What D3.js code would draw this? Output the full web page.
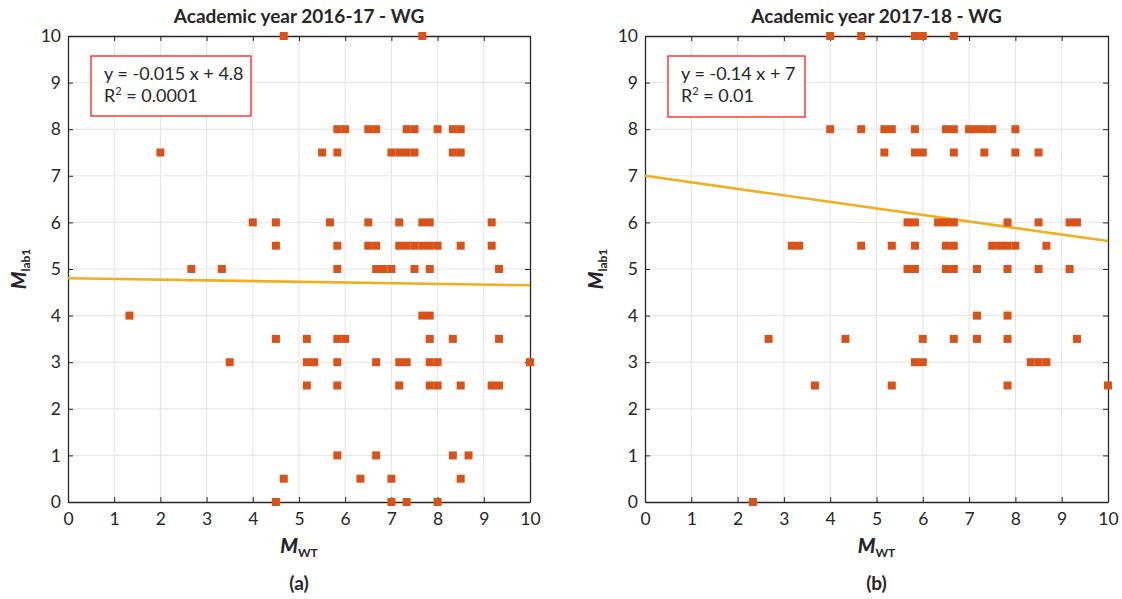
<!DOCTYPE html>
<html>
<head>
<meta charset="utf-8">
<script src="https://cdn.jsdelivr.net/npm/d3@7"></script>
<style>
body{margin:0;background:#fff;}
svg{display:block;}
text{font-family:Lato,"Open Sans",sans-serif;fill:#262626;}
</style>
</head>
<body>
<div id="chart"></div>
<script>
var svgWidth = 1122;
var svgHeight = 599;

var titles = ["Academic year 2016-17 - WG", "Academic year 2017-18 - WG"];
var captions = ["(a)", "(b)"];
var eqLines = ["y = -0.015 x + 4.8", "y = -0.14 x + 7"];
var r2Values = ["0.0001", "0.01"];
var slopes = [-0.015, -0.14];
var intercepts = [4.8, 7];
var tickVals = [0, 1, 2, 3, 4, 5, 6, 7, 8, 9, 10];

// 2016-17: M_lab1 levels and the M_WT values found on each level
var labLevelsA = [10, 8, 7.5, 6, 5.5, 5, 4, 3.5, 3, 2.5, 1, 0.5, 0];
var wtByLevelA = [
  [4.67, 7.67],
  [5.83, 6.0, 6.5, 6.67, 7.33, 7.5, 8.0, 8.33, 8.5],
  [2.0, 5.5, 5.83, 7.0, 7.17, 7.33, 7.5, 8.33, 8.5],
  [4.0, 4.5, 5.67, 6.5, 7.17, 7.67, 7.83, 9.17],
  [4.5, 5.83, 6.5, 6.67, 7.17, 7.33, 7.5, 7.67, 7.83, 8.0, 8.5, 9.17],
  [2.67, 3.33, 5.83, 6.67, 6.83, 7.0, 7.5, 7.83, 9.33],
  [1.33, 7.67, 7.83],
  [4.5, 5.17, 5.83, 6.0, 7.83, 8.33, 9.33],
  [3.5, 5.17, 5.33, 5.83, 6.67, 7.17, 7.33, 7.83, 8.0, 10],
  [5.17, 5.83, 7.17, 7.83, 8.0, 8.5, 9.17, 9.33],
  [5.83, 6.67, 8.33, 8.67],
  [4.67, 6.33, 7.0, 8.5],
  [4.5, 7.0, 7.33, 8.0]
];

// 2017-18
var labLevelsB = [10, 8, 7.5, 6, 5.5, 5, 4, 3.5, 3, 2.5, 0];
var wtByLevelB = [
  [4.0, 4.67, 5.83, 6.0, 6.67],
  [4.0, 4.67, 5.17, 5.33, 5.83, 6.5, 6.67, 7.0, 7.17, 7.33, 7.5, 8.0],
  [5.17, 5.83, 6.0, 6.67, 7.33, 8.0, 8.5],
  [5.67, 5.83, 6.33, 6.5, 6.67, 7.83, 8.5, 9.17, 9.33],
  [3.17, 3.33, 4.67, 5.33, 5.83, 6.5, 6.67, 7.5, 7.67, 7.83, 8.0, 8.67],
  [5.67, 5.83, 6.5, 6.67, 7.17, 7.83, 8.5, 9.17],
  [7.17, 7.83],
  [2.67, 4.33, 6.0, 6.67, 7.17, 7.83, 9.33],
  [5.83, 6.0, 8.33, 8.5, 8.67],
  [3.67, 5.33, 7.83, 10],
  [2.33]
];

function toPoints(levels, wts) {
  var pts = [];
  levels.forEach(function(lv, i) {
    wts[i].forEach(function(w) { pts.push({wt: w, lab: lv}); });
  });
  return pts;
}

var panels = [
  {left: 68, right: 530, data: toPoints(labLevelsA, wtByLevelA), box: [91, 56, 160, 60]},
  {left: 645, right: 1108, data: toPoints(labLevelsB, wtByLevelB), box: [668, 56, 137, 61]}
];
var plotTop = 36, plotBottom = 502;

var svg = d3.select("#chart").append("svg")
  .attr("width", svgWidth)
  .attr("height", svgHeight);

panels.forEach(function(p, i) {
  var g = svg.append("g");
  var x = d3.scaleLinear().domain([0, 10]).range([p.left, p.right]);
  var y = d3.scaleLinear().domain([0, 10]).range([plotBottom, plotTop]);

  // grid
  g.append("g").selectAll("line").data(tickVals.slice(1, -1)).enter().append("line")
    .attr("x1", d => x(d)).attr("x2", d => x(d)).attr("y1", plotTop).attr("y2", plotBottom)
    .attr("stroke", "#e3e3e3").attr("stroke-width", 1);
  g.append("g").selectAll("line").data(tickVals.slice(1, -1)).enter().append("line")
    .attr("y1", d => y(d)).attr("y2", d => y(d)).attr("x1", p.left).attr("x2", p.right)
    .attr("stroke", "#e3e3e3").attr("stroke-width", 1);

  // axes, ticks pointing inwards
  var axB = g.append("g").attr("transform", `translate(0,${plotBottom})`)
    .call(d3.axisBottom(x).tickValues(tickVals).tickSizeInner(-5).tickSizeOuter(0).tickPadding(11));
  var axL = g.append("g").attr("transform", `translate(${p.left},0)`)
    .call(d3.axisLeft(y).tickValues(tickVals).tickSizeInner(-5).tickSizeOuter(0).tickPadding(7));
  var axT = g.append("g").attr("transform", `translate(0,${plotTop})`)
    .call(d3.axisTop(x).tickValues(tickVals).tickSizeInner(-5).tickSizeOuter(0).tickFormat(""));
  var axR = g.append("g").attr("transform", `translate(${p.right},0)`)
    .call(d3.axisRight(y).tickValues(tickVals).tickSizeInner(-5).tickSizeOuter(0).tickFormat(""));
  [axB, axL, axT, axR].forEach(function(a) {
    a.select(".domain").attr("stroke", "#262626").attr("stroke-width", 1.3);
    a.selectAll(".tick line").attr("stroke", "#262626").attr("stroke-width", 1);
    a.selectAll(".tick text").attr("font-size", "17.5px").attr("fill", "#262626")
      .attr("font-family", "Lato, 'Open Sans', sans-serif");
  });

  // regression line
  g.append("line")
    .attr("x1", x(0)).attr("y1", y(intercepts[i]))
    .attr("x2", x(10)).attr("y2", y(slopes[i] * 10 + intercepts[i]))
    .attr("stroke", "#EDB120").attr("stroke-width", 2.6);

  // points
  var s = 8;
  g.append("g").selectAll("rect").data(p.data).enter().append("rect")
    .attr("x", d => x(d.wt) - s / 2)
    .attr("y", d => y(d.lab) - s / 2)
    .attr("width", s).attr("height", s)
    .attr("fill", "#D95319");

  // equation box
  g.append("rect")
    .attr("x", p.box[0]).attr("y", p.box[1]).attr("width", p.box[2]).attr("height", p.box[3])
    .attr("fill", "#fff").attr("stroke", "#FF1A1A").attr("stroke-width", 1.3);
  g.append("text").attr("x", p.box[0] + 13).attr("y", p.box[1] + 24)
    .attr("font-size", "18px").text(eqLines[i]);
  var r2 = g.append("text").attr("x", p.box[0] + 13).attr("y", p.box[1] + 46)
    .attr("font-size", "18px");
  r2.append("tspan").text("R");
  r2.append("tspan").attr("font-size", "11px").attr("dy", -7).text("2");
  r2.append("tspan").attr("dy", 7).text(" = " + r2Values[i]);

  // title
  g.append("text").attr("x", (p.left + p.right) / 2).attr("y", 23)
    .attr("text-anchor", "middle").attr("font-size", "19px").attr("font-weight", "bold")
    .text(titles[i]);

  // x label
  var xl = g.append("text").attr("x", (p.left + p.right) / 2).attr("y", 553)
    .attr("text-anchor", "middle").attr("font-weight", "bold");
  xl.append("tspan").attr("font-size", "20px").attr("font-weight", 900).attr("font-style", "italic").text("M");
  xl.append("tspan").attr("font-size", "12px").attr("dy", 4).text("WT");

  // y label
  var yl = g.append("text")
    .attr("transform", `translate(${p.left - 42},${(plotTop + plotBottom) / 2}) rotate(-90)`)
    .attr("text-anchor", "middle").attr("font-weight", "bold");
  yl.append("tspan").attr("font-size", "20px").attr("font-weight", 900).attr("font-style", "italic").text("M");
  yl.append("tspan").attr("font-size", "12px").attr("dy", 4).text("lab1");

  // caption
  g.append("text").attr("x", (p.left + p.right) / 2).attr("y", 590)
    .attr("text-anchor", "middle").attr("font-size", "19px").attr("font-weight", "bold")
    .text(captions[i]);
});
</script>
</body>
</html>
